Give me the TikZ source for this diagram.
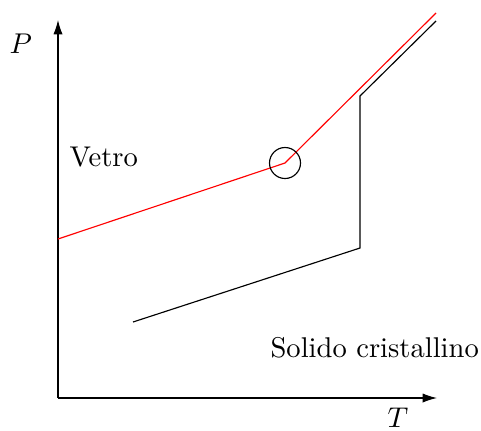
\documentclass[tikz,border=0pt]{standalone}
\usetikzlibrary{arrows.meta}
\begin{document}
\begin{tikzpicture}[x=0.35pt,y=-0.35pt,
  axis/.style={-{Latex[length=5pt,width=3.2pt]}},
  lbl/.style={inner sep=0pt,anchor=base west}]
\useasboundingbox (0,0) rectangle (481,430);
\coordinate (O) at (58,398);
\coordinate (Ytip) at (58,20);
\coordinate (Xtip) at (437,398);
\draw[axis] (O) -- (Ytip);
\draw[axis] (O) -- (Xtip);
\coordinate (r1) at (58,239);
\coordinate (r2) at (285,163);
\coordinate (r3) at (436,13);
\coordinate (b1) at (133,322);
\coordinate (b2) at (360,248);
\coordinate (b3) at (360,96);
\coordinate (b4) at (436,21);
\draw (b1) -- (b2) -- (b3) -- (b4);
\draw[red] (r1) -- (r2) -- (r3);
\node[draw,circle,minimum size=31*0.35pt,inner sep=0pt] (c) at (r2) {};
\node[lbl] (P) at (9,53) {$P$};
\node[lbl] (T) at (387,427) {$T$};
\node[lbl] (V) at (69,166) {Vetro};
\node[lbl] (S) at (270,357) {Solido cristallino};
\end{tikzpicture}
\end{document}
